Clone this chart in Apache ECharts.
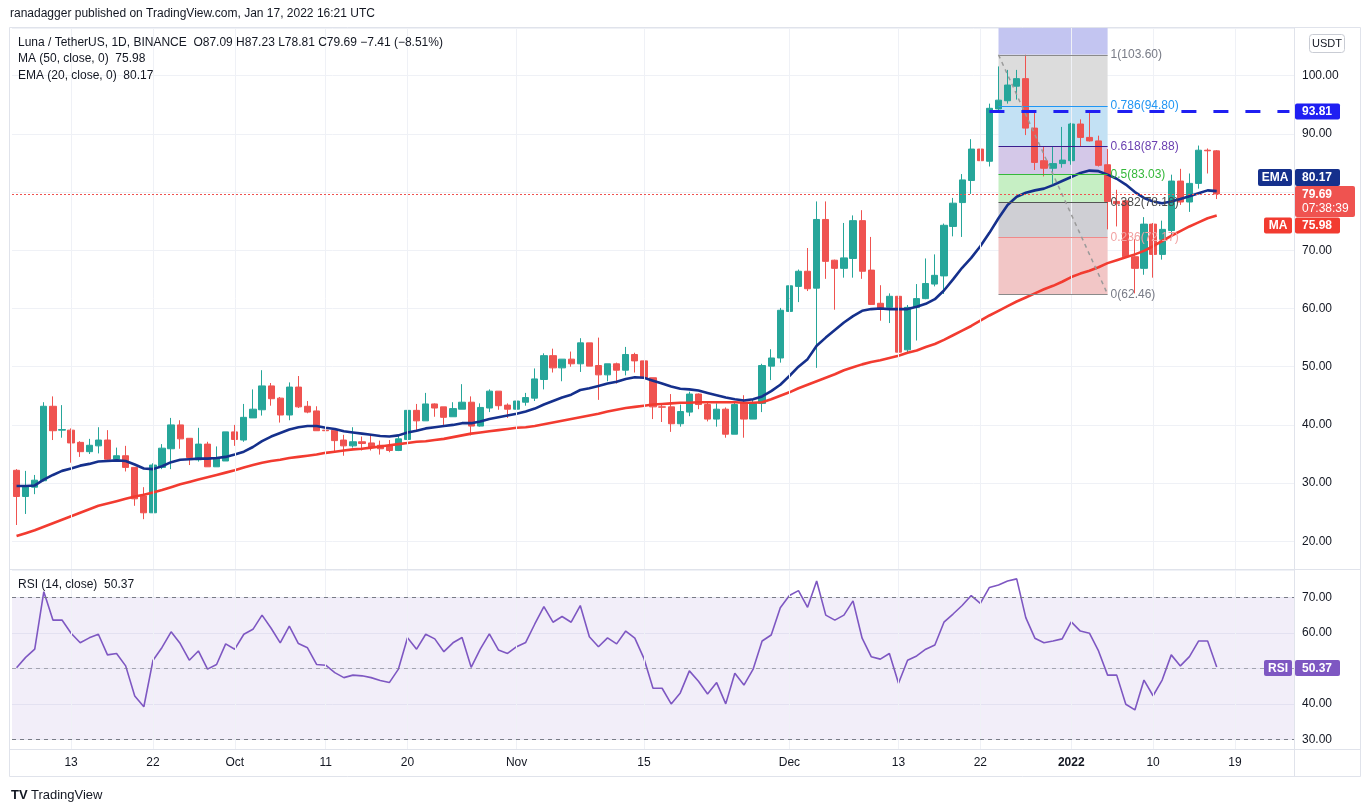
<!DOCTYPE html>
<html>
<head>
<meta charset="utf-8" />
<title>Luna / TetherUS, 1D</title>
<script src="https://cdn.jsdelivr.net/npm/echarts@6/dist/echarts.min.js"></script>
<style>
html, body { margin: 0; padding: 0; background: #fff; }
#main { width: 1370px; height: 812px; }
</style>
</head>
<body>
<div id="main"></div>
<script>
// first candle + how many days the time axis shows (empty space on the right)
var firstDay = [2021, 8, 7];
var dayCount = 141;

// daily candles, Sep 7 2021 .. Jan 17 2022
var openV = [
	32.2, 27.7, 29.3, 30.4, 43.2, 39.1, 39.1, 37.0, 35.4, 36.4,
	37.4, 34.1, 34.7, 32.7, 27.8, 24.9, 32.7, 35.9, 40.0, 37.7,
	34.0, 36.7, 32.8, 33.8, 38.8, 37.4, 41.2, 42.6, 46.7, 44.6,
	41.7, 46.5, 43.2, 42.4, 39.1, 39.1, 37.4, 36.4, 37.1, 36.9,
	36.5, 36.4, 35.6, 37.5, 42.5, 40.7, 43.6, 43.1, 41.4, 42.7,
	43.9, 39.8, 42.9, 45.8, 43.4, 42.7, 43.9, 44.6, 47.8, 51.9,
	49.8, 51.3, 50.5, 54.1, 50.2, 48.6, 50.5, 49.4, 52.1, 51.0,
	48.1, 43.1, 43.1, 40.2, 42.2, 45.3, 43.5, 41.0, 42.7, 38.4,
	43.8, 41.0, 43.7, 50.1, 51.5, 59.5, 63.8, 66.4, 63.5, 75.3,
	68.3, 66.9, 68.6, 75.1, 66.6, 60.9, 60.2, 62.1, 52.9, 60.2,
	61.7, 64.2, 65.6, 74.1, 78.2, 82.0, 87.4, 85.3, 94.3, 95.7,
	98.2, 99.5, 91.0, 85.4, 84.1, 84.9, 85.4, 91.7, 89.4, 88.8,
	84.7, 78.4, 78.5, 68.9, 66.9, 74.5, 69.3, 73.4, 81.9, 78.3,
	81.5, 87.2, 87.09
];
var closeV = [
	27.7, 29.5, 30.5, 43.2, 39.0, 39.2, 36.9, 35.4, 36.5, 37.4,
	34.1, 34.7, 32.7, 27.3, 24.9, 33.1, 36.0, 40.0, 37.6, 34.4,
	36.7, 32.8, 34.4, 38.8, 37.5, 41.3, 42.7, 46.7, 44.5, 41.7,
	46.5, 43.1, 42.2, 39.0, 39.0, 37.3, 36.4, 37.1, 36.8, 36.1,
	35.9, 35.6, 37.6, 42.5, 40.7, 43.6, 42.9, 41.3, 42.8, 43.9,
	39.8, 43.0, 45.8, 43.3, 42.7, 44.1, 44.7, 47.9, 51.9, 49.8,
	51.3, 50.5, 54.1, 50.1, 48.6, 50.5, 49.4, 52.1, 51.0, 48.1,
	43.1, 43.05, 40.2, 42.3, 45.3, 43.5, 41.0, 42.7, 38.4, 43.5,
	41.0, 43.8, 50.2, 51.5, 59.7, 63.9, 66.4, 63.4, 75.3, 68.1,
	66.9, 68.7, 75.1, 66.4, 60.7, 60.1, 62.1, 52.5, 60.2, 61.7,
	64.3, 65.7, 74.3, 78.1, 82.1, 87.4, 85.4, 94.4, 95.8, 98.4,
	99.5, 91.0, 85.1, 84.1, 84.9, 85.5, 91.7, 89.4, 88.8, 84.6,
	78.4, 78.0, 68.9, 66.9, 74.5, 69.3, 73.6, 81.9, 78.3, 81.5,
	87.2, 87.1, 79.69
];
var highV = [
	32.4, 32.1, 31.4, 43.9, 44.9, 43.4, 39.4, 37.2, 37.6, 39.6,
	39.1, 36.1, 36.4, 32.7, 29.3, 33.4, 36.7, 41.2, 40.8, 37.7,
	39.5, 37.1, 36.3, 38.8, 40.0, 43.6, 46.1, 49.4, 47.2, 44.8,
	47.3, 48.4, 44.1, 43.2, 40.7, 39.1, 38.3, 39.6, 38.0, 38.3,
	37.3, 37.4, 38.3, 43.9, 43.6, 45.5, 43.7, 43.1, 43.9, 47.0,
	44.9, 43.7, 46.1, 45.8, 43.7, 44.4, 45.5, 49.7, 52.3, 53.1,
	51.3, 52.6, 54.9, 54.1, 55.0, 50.5, 50.7, 53.4, 52.4, 51.0,
	48.1, 43.5, 45.3, 43.5, 45.7, 45.4, 43.8, 43.7, 43.0, 43.8,
	45.1, 44.4, 50.5, 53.0, 60.1, 64.9, 66.7, 70.4, 78.4, 78.4,
	68.4, 74.7, 76.0, 76.9, 72.3, 64.0, 62.6, 62.3, 60.6, 64.2,
	68.6, 69.3, 74.6, 79.0, 83.1, 89.1, 98.2, 95.2, 101.6, 101.0,
	101.0, 103.6, 93.8, 87.9, 87.9, 91.2, 91.9, 92.5, 93.9, 89.7,
	87.4, 80.4, 78.5, 71.9, 75.7, 74.7, 75.1, 83.0, 84.0, 83.2,
	88.0, 87.5, 87.23
];
var lowV = [
	22.8, 24.7, 28.1, 30.3, 37.4, 37.8, 33.5, 34.5, 35.0, 35.1,
	34.0, 33.8, 32.0, 26.1, 23.8, 24.9, 32.4, 32.4, 35.9, 33.1,
	33.7, 32.8, 32.8, 33.8, 36.4, 37.1, 41.2, 41.6, 43.3, 40.4,
	40.8, 42.9, 42.0, 39.0, 37.4, 35.2, 34.7, 36.1, 35.6, 35.6,
	34.9, 35.3, 35.5, 37.4, 39.0, 40.7, 41.4, 40.0, 41.4, 42.7,
	38.2, 39.7, 42.2, 42.6, 41.2, 41.5, 43.3, 44.1, 46.1, 49.0,
	47.5, 50.0, 49.1, 50.1, 44.3, 47.5, 47.1, 48.5, 49.0, 48.1,
	41.0, 40.5, 38.8, 39.7, 41.5, 42.7, 40.6, 39.7, 37.8, 38.4,
	37.8, 41.0, 42.2, 47.7, 50.7, 55.8, 61.1, 63.0, 49.8, 65.1,
	59.8, 65.3, 65.3, 65.1, 60.6, 57.9, 57.5, 52.5, 52.2, 54.5,
	61.6, 63.8, 62.5, 72.4, 72.3, 79.7, 84.4, 84.4, 93.8, 95.2,
	95.9, 89.8, 83.8, 82.7, 81.4, 84.2, 84.7, 87.9, 88.7, 84.4,
	73.6, 74.1, 68.7, 62.6, 65.8, 65.3, 68.4, 72.6, 77.8, 76.6,
	80.6, 83.2, 78.81
];

// MA(50) and EMA(20)
var ma50 = [
	20.9, 21.4, 21.9, 22.5, 23.1, 23.7, 24.3, 24.9, 25.5, 26.1,
	26.5, 26.9, 27.3, 27.7, 28.0, 28.4, 28.8, 29.3, 29.8, 30.2,
	30.6, 31.0, 31.4, 31.8, 32.2, 32.7, 33.1, 33.5, 33.8, 34.0,
	34.3, 34.5, 34.7, 34.9, 35.2, 35.4, 35.6, 35.8, 35.9, 36.1,
	36.3, 36.5, 36.7, 36.9, 37.1, 37.2, 37.4, 37.6, 37.9, 38.2,
	38.5, 38.7, 38.9, 39.1, 39.3, 39.5, 39.6, 39.8, 40.1, 40.4,
	40.7, 41.0, 41.3, 41.6, 41.9, 42.3, 42.6, 42.9, 43.1, 43.3,
	43.5, 43.6, 43.7, 43.8, 43.8, 43.9, 43.9, 43.9, 43.9, 43.9,
	43.8, 43.8, 43.9, 44.4, 45.0, 45.6, 46.3, 46.9, 47.5, 48.1,
	48.7, 49.4, 49.9, 50.4, 50.8, 51.1, 51.5, 51.9, 52.4, 52.8,
	53.4, 53.9, 54.6, 55.4, 56.2, 57.0, 57.9, 58.8, 59.6, 60.4,
	61.2, 61.9, 62.6, 63.3, 63.9, 64.6, 65.4, 66.0, 66.5, 67.1,
	67.8, 68.3, 68.8, 69.3, 69.9, 70.7, 71.6, 72.5, 73.3, 74.1,
	74.8, 75.5, 75.98
];
var ema20 = [
	29.5, 29.5, 29.6, 30.6, 31.4, 32.1, 32.5, 33.0, 33.3, 33.7,
	33.8, 33.9, 33.8, 33.2, 32.5, 32.4, 32.9, 33.6, 34.0, 34.1,
	34.2, 34.2, 34.3, 34.5, 34.9, 35.4, 36.2, 37.2, 38.0, 38.6,
	39.2, 39.6, 39.8, 39.8, 39.5, 39.3, 38.9, 38.7, 38.5, 38.3,
	38.1, 38.0, 38.2, 38.7, 39.0, 39.4, 39.6, 39.8, 40.0, 40.3,
	40.3, 40.6, 41.0, 41.3, 41.6, 41.9, 42.3, 42.8, 43.5, 44.1,
	44.7, 45.2, 46.0, 46.3, 46.7, 47.1, 47.4, 47.9, 48.2, 48.1,
	47.6, 47.1, 46.6, 46.2, 46.1, 45.9, 45.5, 45.1, 44.7, 44.4,
	44.2, 44.4, 44.9, 45.8, 46.9, 48.4, 50.0, 51.3, 53.6, 55.0,
	56.3, 57.6, 58.7, 59.6, 59.9, 60.0, 59.9, 59.9, 59.9, 60.3,
	60.8, 61.6, 63.1, 65.0, 67.0, 68.7, 70.7, 73.0, 75.5, 77.8,
	79.2, 79.9, 80.3, 80.6, 81.2, 81.9, 82.6, 83.3, 83.7, 83.6,
	83.0, 82.3, 81.3, 80.0, 79.0, 78.4, 78.1, 78.4, 78.8, 79.3,
	79.8, 80.3, 80.17
];

// RSI(14)
var rsi14 = [
	50.2, 53.1, 55.4, 71.6, 63.6, 63.6, 59.9, 57.2, 58.6, 59.6,
	53.8, 54.2, 50.7, 42.2, 39.2, 52.2, 55.9, 60.3, 57.0, 52.3,
	54.9, 49.8, 51.1, 56.9, 55.4, 59.6, 61.0, 65.0, 61.3, 57.2,
	61.9, 57.0, 55.8, 51.1, 50.9, 48.8, 47.4, 48.1, 47.9, 47.4,
	46.6, 46.0, 49.8, 58.6, 55.4, 59.6, 58.3, 54.7, 57.2, 58.7,
	50.3, 55.4, 59.7, 55.2, 54.2, 56.1, 57.3, 62.5, 67.4, 63.0,
	64.6, 63.0, 67.7, 58.9, 56.1, 58.6, 56.9, 60.5, 58.5, 52.8,
	44.4, 44.4, 40.0, 43.1, 49.3, 46.4, 42.8, 46.0, 40.0, 48.6,
	45.3, 49.7, 57.7, 59.4, 67.1, 70.5, 71.9, 67.2, 74.6, 65.0,
	63.6, 65.0, 69.0, 58.5, 53.3, 52.6, 54.2, 45.8, 52.3, 53.5,
	55.4, 56.6, 63.0, 65.3, 67.7, 70.5, 68.3, 72.8, 73.5, 74.6,
	75.2, 64.3, 58.5, 57.2, 57.7, 58.3, 63.1, 60.5, 59.9, 54.9,
	48.1, 48.1, 39.9, 38.3, 46.7, 42.3, 46.7, 53.8, 50.7, 53.3,
	57.7, 57.7, 50.37
];

// time axis labels
var tickLabels = [
	['2021-09-13', '13'], ['2021-09-22', '22'], ['2021-10-01', 'Oct'],
	['2021-10-11', '11'], ['2021-10-20', '20'], ['2021-11-01', 'Nov'],
	['2021-11-15', '15'], ['2021-12-01', 'Dec'], ['2021-12-13', '13'],
	['2021-12-22', '22'], ['2022-01-01', '2022'], ['2022-01-10', '10'],
	['2022-01-19', '19']
];

// fibonacci drawing (ratio, price) and its span
var fibLevels = [
	['1', 103.60], ['0.786', 94.80], ['0.618', 87.88], ['0.5', 83.03],
	['0.382', 78.18], ['0.236', 72.17], ['0', 62.46]
];
var fibStart = '2021-12-24';
var fibEnd = '2022-01-05';
var resistance = 93.81;
var resistanceFrom = '2021-12-23';

// ---------------------------------------------------------------
var font = '"Liberation Sans", Arial, sans-serif';
var upColor = '#26a69a', downColor = '#ef5350';
var maColor = '#f23b30', emaColor = '#15308c', rsiColor = '#7e57c2';
var gridLine = '#eff1f6';
var priceMin = 15.24, priceMax = 108.2;

var days = [];
var t0 = Date.UTC(firstDay[0], firstDay[1], firstDay[2]);
for (var i = 0; i < dayCount; i++) {
	days.push(new Date(t0 + i * 86400000).toISOString().slice(0, 10));
}
var tickMap = {};
tickLabels.forEach(function (t) { tickMap[t[0]] = t[1]; });

var candles = openV.map(function (o, i) { return [o, closeV[i], lowV[i], highV[i]]; });
var last = closeV.length - 1;
var chg = closeV[last] - closeV[last - 1];
var chgPct = chg / closeV[last - 1] * 100;
function sgn(v) { return (v < 0 ? '\u2212' : '+') + Math.abs(v).toFixed(2); }

// fib bands, colours from the picture
var fibFill = ['#dcdcdc', '#c3e1f4', '#d4c8e8', '#c6efc4', '#cfcfd4', '#f2c6c6'];
var fibLine = ['#8a8a8a', '#2196f3', '#3b1f8f', '#35b83a', '#555555', '#f08a8a', '#8a8a8a'];
var fibText = ['#787b86', '#2196f3', '#6a3fb0', '#35b83a', '#4a4a4a', '#f2a3a3', '#787b86'];

var fibAreas = [[
	{ xAxis: fibStart, yAxis: priceMax, itemStyle: { color: '#c3c5f1' } },
	{ xAxis: fibEnd, yAxis: fibLevels[0][1] }
]];
for (var k = 0; k < fibLevels.length - 1; k++) {
	fibAreas.push([
		{ xAxis: fibStart, yAxis: fibLevels[k][1], itemStyle: { color: fibFill[k] } },
		{ xAxis: fibEnd, yAxis: fibLevels[k + 1][1] }
	]);
}
var fibLines = fibLevels.map(function (f, k) {
	return [
		{
			coord: [fibStart, f[1]],
			lineStyle: { color: fibLine[k], width: 1, type: 'solid' },
			label: {
				show: true, position: 'end', distance: 3,
				formatter: f[0] + '(' + f[1].toFixed(2) + ')',
				color: fibText[k], fontSize: 12, fontFamily: font
			}
		},
		{ coord: [fibEnd, f[1]] }
	];
});
fibLines.push([
	{ coord: [fibStart, fibLevels[0][1]], lineStyle: { color: '#9a9a9a', width: 1.5, type: [4, 4] }, label: { show: false } },
	{ coord: [fibEnd, fibLevels[fibLevels.length - 1][1]] }
]);

function vGrid(xi, yi) {
	return {
		type: 'line', xAxisIndex: xi, yAxisIndex: yi, data: [], z: 0, silent: true,
		markLine: {
			silent: true, symbol: 'none', animation: false,
			label: { show: false },
			lineStyle: { color: gridLine, width: 1, type: 'solid' },
			data: tickLabels.map(function (t) { return { xAxis: t[0] }; })
		}
	};
}

// small coloured labels on the price scale (own layer so they cover axis labels)
function tag(x, yc, w, h, bg, txt, center) {
	return {
		type: 'group', zlevel: 1, z: 100, silent: true,
		children: [
			{ type: 'rect', zlevel: 1, z: 100, shape: { x: x, y: yc - h / 2, width: w, height: h, r: 2 }, style: { fill: bg } },
			{
				type: 'text', zlevel: 1, z: 101, x: center ? x + w / 2 : x + 7, y: yc + 0.5,
				style: {
					text: txt, fill: '#fff', fontSize: 12, fontFamily: font, fontWeight: 'bold',
					align: center ? 'center' : 'left', verticalAlign: 'middle'
				}
			}
		]
	};
}
function line(x1, y1, x2, y2) {
	return { type: 'line', z: 90, silent: true, shape: { x1: x1, y1: y1, x2: x2, y2: y2 }, style: { stroke: '#e0e3eb', lineWidth: 1 } };
}
function txt(x, y, s, rich) {
	return {
		type: 'text', x: x, y: y, z: 100, silent: true,
		style: { text: s, fill: '#131722', fontSize: 12, fontFamily: font, verticalAlign: 'middle', rich: rich || {} }
	};
}
var legendRich = {
	d: { color: '#131722', fontSize: 12, fontFamily: font },
	r: { color: '#ef5350', fontSize: 12, fontFamily: font },
	m: { color: maColor, fontSize: 12, fontFamily: font },
	e: { color: emaColor, fontSize: 12, fontFamily: font },
	p: { color: rsiColor, fontSize: 12, fontFamily: font }
};

// 80.00 and 50.00 sit under the coloured tags, as in the screenshot
var hiddenPrice = [80];
var hiddenRsi = [50];

var option = {
	animation: false,
	backgroundColor: '#ffffff',
	textStyle: { fontFamily: font },
	grid: [
		{ left: 12, right: 76, top: 28, height: 541 },
		{ left: 12, right: 76, top: 570, height: 179 }
	],
	xAxis: [
		{
			type: 'category', gridIndex: 0, data: days, boundaryGap: true,
			axisLine: { show: false }, axisTick: { show: false },
			axisLabel: { show: false }, splitLine: { show: false }
		},
		{
			type: 'category', gridIndex: 1, data: days, boundaryGap: true,
			axisLine: { show: false }, axisTick: { show: false }, splitLine: { show: false },
			axisLabel: {
				color: '#131722', fontSize: 12, margin: 8,
				interval: function (idx, val) { return tickMap[val] !== undefined; },
				formatter: function (val) {
					var s = tickMap[val] || '';
					return s === '2022' ? '{b|' + s + '}' : s;
				},
				rich: { b: { fontWeight: 'bold', fontSize: 12, color: '#131722' } }
			}
		}
	],
	yAxis: [
		{
			type: 'value', gridIndex: 0, position: 'right', min: priceMin, max: priceMax, splitNumber: 9,
			axisLine: { show: false }, axisTick: { show: false },
			axisLabel: {
				color: '#131722', fontSize: 12, margin: 8, showMinLabel: false, showMaxLabel: false,
				formatter: function (v) { return hiddenPrice.indexOf(Math.round(v)) >= 0 ? '' : v.toFixed(2); }
			},
			splitLine: { lineStyle: { color: gridLine, width: 1 } }
		},
		{
			type: 'value', gridIndex: 1, position: 'right', min: 27.3, max: 77.7, splitNumber: 5,
			axisLine: { show: false }, axisTick: { show: false },
			axisLabel: {
				color: '#131722', fontSize: 12, margin: 8, showMinLabel: false, showMaxLabel: false,
				formatter: function (v) { return hiddenRsi.indexOf(Math.round(v)) >= 0 ? '' : v.toFixed(2); }
			},
			splitLine: { lineStyle: { color: gridLine, width: 1 } }
		}
	],
	series: [
		vGrid(0, 0),
		vGrid(1, 1),
		{
			// fibonacci retracement
			type: 'line', xAxisIndex: 0, yAxisIndex: 0, data: [], z: 1, silent: true,
			markArea: { silent: true, data: fibAreas },
			markLine: { silent: true, symbol: 'none', data: fibLines }
		},
		{
			type: 'candlestick', name: 'LUNA', xAxisIndex: 0, yAxisIndex: 0, z: 2,
			data: candles, barWidth: '74%',
			itemStyle: { color: upColor, color0: downColor, borderColor: upColor, borderColor0: downColor, borderWidth: 1 },
			markLine: {
				silent: true, symbol: 'none', label: { show: false },
				lineStyle: { color: downColor, width: 1, type: [2, 2] },
				data: [{ yAxis: closeV[last] }]
			}
		},
		{
			type: 'line', name: 'MA', xAxisIndex: 0, yAxisIndex: 0, z: 3, data: ma50,
			symbol: 'none', smooth: false, lineStyle: { color: maColor, width: 2.6 }
		},
		{
			type: 'line', name: 'EMA', xAxisIndex: 0, yAxisIndex: 0, z: 3, data: ema20,
			symbol: 'none', smooth: false, lineStyle: { color: emaColor, width: 2.6 }
		},
		{
			// horizontal resistance
			type: 'line', xAxisIndex: 0, yAxisIndex: 0, data: [], z: 4, silent: true,
			markLine: {
				silent: true, symbol: 'none', label: { show: false },
				lineStyle: { color: '#1f1ff2', width: 3, type: [15, 17] },
				data: [[{ coord: [resistanceFrom, resistance] }, { coord: [days[dayCount - 1], resistance] }]]
			}
		},
		{
			type: 'line', name: 'RSI', xAxisIndex: 1, yAxisIndex: 1, z: 3, data: rsi14,
			symbol: 'none', smooth: false, lineStyle: { color: rsiColor, width: 1.6 },
			markArea: {
				silent: true, itemStyle: { color: 'rgba(126,87,194,0.1)' },
				data: [[{ yAxis: 70 }, { yAxis: 30 }]]
			},
			markLine: {
				silent: true, symbol: 'none', label: { show: false },
				lineStyle: { color: '#787b86', width: 1, type: [4, 4] },
				data: [{ yAxis: 70 }, { yAxis: 50, lineStyle: { opacity: 0.6 } }, { yAxis: 30 }]
			}
		}
	],
	graphic: [
		// frame and pane separators
		{ type: 'rect', z: 90, silent: true, shape: { x: 9.5, y: 27.5, width: 1351, height: 749 }, style: { fill: 'none', stroke: '#e0e3eb' } },
		line(1294.5, 27.5, 1294.5, 776.5),
		line(9.5, 569.5, 1360.5, 569.5),
		line(9.5, 749.5, 1360.5, 749.5),

		txt(10, 14, 'ranadagger published on TradingView.com, Jan 17, 2022 16:21 UTC'),
		txt(18, 43, '{d|Luna / TetherUS, 1D, BINANCE}  {d|O}{r|' + openV[last].toFixed(2) + '} {d|H}{r|' + highV[last].toFixed(2) +
			'} {d|L}{r|' + lowV[last].toFixed(2) + '} {d|C}{r|' + closeV[last].toFixed(2) + '} {r|' + sgn(chg) + ' (' + sgn(chgPct) + '%)}', legendRich),
		txt(18, 59, '{d|MA (50, close, 0)}  {m|' + ma50[last].toFixed(2) + '}', legendRich),
		txt(18, 76, '{d|EMA (20, close, 0)}  {e|' + ema20[last].toFixed(2) + '}', legendRich),
		txt(18, 585, '{d|RSI (14, close)}  {p|' + rsi14[last].toFixed(2) + '}', legendRich),

		// USDT button
		{
			type: 'group', zlevel: 1, z: 100, silent: true,
			children: [
				{ type: 'rect', shape: { x: 1309.5, y: 34.5, width: 35, height: 18, r: 3 }, style: { fill: '#fff', stroke: '#c9ccd4' } },
				{ type: 'text', x: 1327, y: 44, style: { text: 'USDT', fill: '#131722', fontSize: 11, fontFamily: font, align: 'center', verticalAlign: 'middle' } }
			]
		},

		// price scale tags
		tag(1295, 111.5, 45, 16, '#1f1ff2', resistance.toFixed(2)),
		tag(1258, 177.5, 34, 17, emaColor, 'EMA', true),
		tag(1295, 177.5, 45, 17, emaColor, ema20[last].toFixed(2)),
		{
			type: 'group', zlevel: 1, z: 100, silent: true,
			children: [
				{ type: 'rect', zlevel: 1, z: 100, shape: { x: 1295, y: 186, width: 60, height: 31, r: 2 }, style: { fill: downColor } },
				{ type: 'text', zlevel: 1, z: 101, x: 1302, y: 195, style: { text: closeV[last].toFixed(2), fill: '#fff', fontSize: 12, fontFamily: font, fontWeight: 'bold', verticalAlign: 'middle' } },
				{ type: 'text', zlevel: 1, z: 101, x: 1302, y: 209, style: { text: '07:38:39', fill: '#fff', fontSize: 12, fontFamily: font, verticalAlign: 'middle' } }
			]
		},
		tag(1264, 225.5, 28, 16, maColor, 'MA', true),
		tag(1295, 225.5, 45, 16, maColor, ma50[last].toFixed(2)),
		tag(1264, 668, 28, 16, rsiColor, 'RSI', true),
		tag(1295, 668, 45, 16, rsiColor, rsi14[last].toFixed(2)),

		// logo
		txt(11, 795, '{l|TV} {d|TradingView}', {
			l: { fontWeight: 900, fontSize: 13, color: '#131722', fontFamily: font },
			d: { fontSize: 13, color: '#131722', fontFamily: font }
		})
	]
};

var chart = echarts.init(document.getElementById('main'));
chart.setOption(option);
</script>
</body>
</html>
